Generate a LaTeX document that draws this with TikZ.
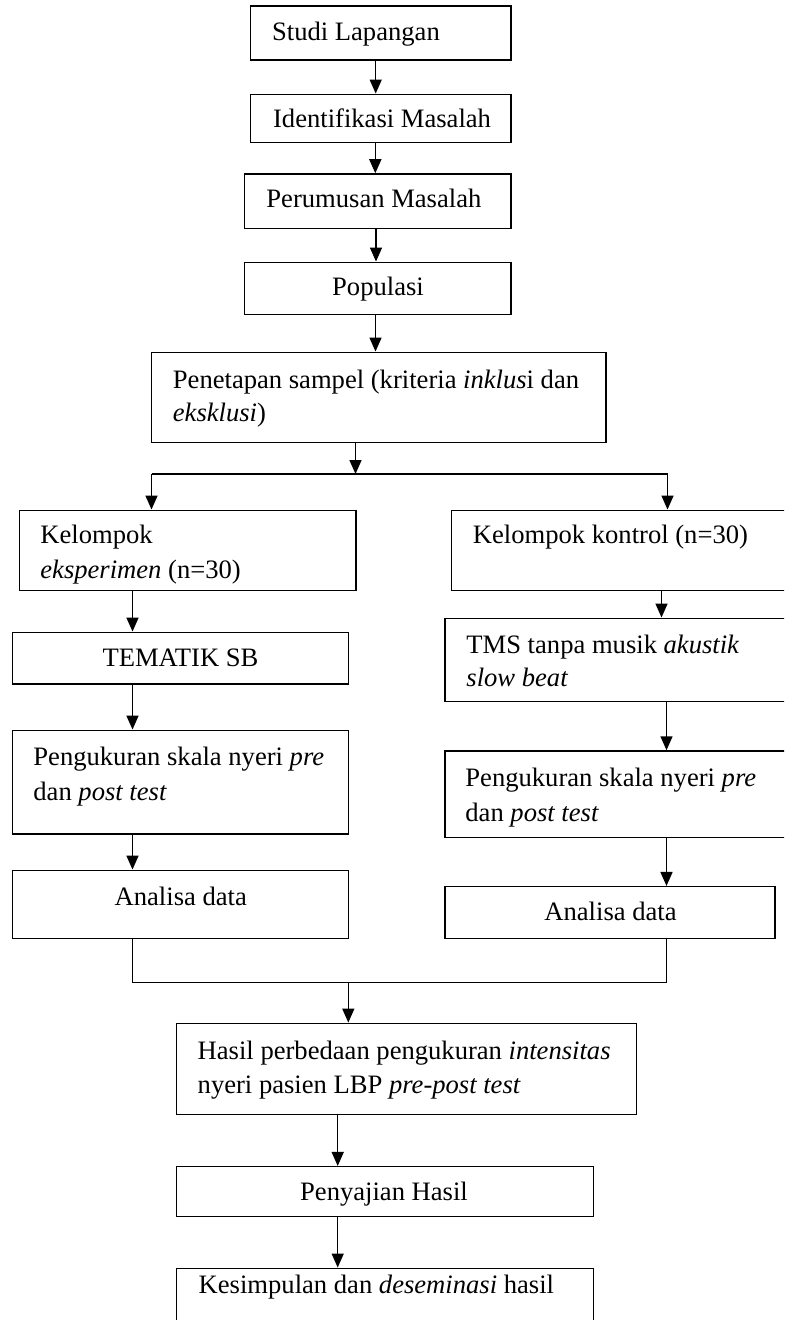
\documentclass[tikz,border=0pt]{standalone}
\usepackage{fontspec}
\setmainfont{Liberation Serif}
\usetikzlibrary{arrows.meta,fit}
\tikzset{
  box/.style={draw=black, line width=0.75pt, inner sep=0pt},
  txt/.style={inner sep=0pt, font=\fontsize{13.3pt}{16pt}\selectfont},
  arr/.style={line width=0.75pt, -{Triangle[length=7pt,width=6pt]}},
  ln/.style={line width=0.75pt}
}
\begin{document}
\begin{tikzpicture}[x=0.5pt,y=-0.5pt]
\useasboundingbox (0,0) rectangle (784,1320);
\clip (0,0) rectangle (784,1320);
\fill[white] (0,0) rectangle (784,1320);
% column coordinates
\coordinate (c1) at (375.7,0);
\coordinate (c2) at (375.3,0);
\coordinate (c3) at (376,0);
\coordinate (c4) at (375.5,0);
\coordinate (c5) at (355.5,0);
\coordinate (cl) at (151.5,0);
\coordinate (cr) at (667.5,0);
\coordinate (c6) at (132.5,0);
\coordinate (c7) at (661.5,0);
\coordinate (c9) at (666.5,0);
\coordinate (cm) at (348.3,0);
\coordinate (cb) at (337.7,0);
\coordinate (split) at (355.5,474);
\coordinate (merge) at (348.3,982.7);
% boxes
\node[box, fit={(250.7,6)(511,60)}] (n1) {};
\node[box, fit={(250.7,94.3)(511,142.7)}] (n2) {};
\node[box, fit={(244.7,174)(511,228.3)}] (n3) {};
\node[box, fit={(244.7,262.3)(511,314.3)}] (n4) {};
\node[box, fit={(151.5,352.3)(606,442.3)}] (n5) {};
\node[box, fit={(19.5,510.3)(356,590.3)}] (n6) {};
\node[box, fit={(451.5,510.3)(800,590.3)}] (n7) {};
\node[box, fit={(12.5,632.3)(348.5,684)}] (n8) {};
\node[box, fit={(445,618.3)(800,701.7)}] (n9) {};
\node[box, fit={(12.5,730.3)(348.5,834)}] (n10) {};
\node[box, fit={(445,751)(800,837.3)}] (n11) {};
\node[box, fit={(12.5,870.3)(348.5,938.3)}] (n12) {};
\node[box, fit={(445,886.7)(775,938.3)}] (n13) {};
\node[box, fit={(176.7,1023.3)(636.7,1114.3)}] (n14) {};
\node[box, fit={(176.7,1166.7)(593.3,1216.5)}] (n15) {};
\node[box, fit={(176.7,1268.3)(593.3,1340)}] (n16) {};
% texts
\node[txt, anchor=base west] (t1) at (271.7,40.7) {Studi Lapangan};
\node[txt, anchor=base west] (t2) at (272.7,128) {Identifikasi Masalah};
\node[txt, anchor=base west] (t3) at (266,208) {Perumusan Masalah};
\node[txt, anchor=base] (t4) at (378,296) {Populasi};
\node[txt, anchor=base west] (t5a) at (172.5,388.3) {Penetapan sampel (kriteria \textit{inklus}i dan};
\node[txt, anchor=base west] (t5b) at (172.5,421.7) {\textit{eksklusi})};
\node[txt, anchor=base west] (t6a) at (40,543) {Kelompok};
\node[txt, anchor=base west] (t6b) at (40,578) {\textit{eksperimen} (n=30)};
\node[txt, anchor=base west] (t7) at (472.5,543) {Kelompok kontrol (n=30)};
\node[txt, anchor=base] (t8) at (180.5,666.7) {TEMATIK SB};
\node[txt, anchor=base west] (t9a) at (466,653.3) {TMS tanpa musik \textit{akustik}};
\node[txt, anchor=base west] (t9b) at (466,686.7) {\textit{slow beat}};
\node[txt, anchor=base west] (t10a) at (33,765) {Pengukuran skala nyeri \textit{pre}};
\node[txt, anchor=base west] (t10b) at (33,800) {dan \textit{post test}};
\node[txt, anchor=base west] (t11a) at (465,786) {Pengukuran skala nyeri \textit{pre}};
\node[txt, anchor=base west] (t11b) at (465,821.7) {dan \textit{post test}};
\node[txt, anchor=base] (t12) at (180.75,905) {Analisa data};
\node[txt, anchor=base] (t13) at (610.5,920) {Analisa data};
\node[txt, anchor=base west] (t14a) at (197.3,1059.3) {Hasil perbedaan pengukuran \textit{intensitas}};
\node[txt, anchor=base west] (t14b) at (197.3,1093.3) {nyeri pasien LBP \textit{pre-post test}};
\node[txt, anchor=base] (t15) at (384,1200) {Penyajian Hasil};
\node[txt, anchor=base west] (t16) at (198.3,1293.3) {Kesimpulan dan \textit{deseminasi} hasil};
% connectors
\draw[arr] (n1.south -| c1) -- (n2.north -| c1);
\draw[arr] (n2.south -| c2) -- (n3.north -| c2);
\draw[arr] (n3.south -| c3) -- (n4.north -| c3);
\draw[arr] (n4.south -| c4) -- (n5.north -| c4);
\draw[arr] (n5.south -| c5) -- (split);
\draw[ln] (split -| cl) -- (split -| cr);
\draw[arr] (split -| cl) -- (n6.north -| cl);
\draw[arr] (split -| cr) -- (n7.north -| cr);
\draw[arr] (n6.south -| c6) -- (n8.north -| c6);
\draw[arr] (n7.south -| c7) -- (n9.north -| c7);
\draw[arr] (n8.south -| c6) -- (n10.north -| c6);
\draw[arr] (n9.south -| c9) -- (n11.north -| c9);
\draw[arr] (n10.south -| c6) -- (n12.north -| c6);
\draw[arr] (n11.south -| c9) -- (n13.north -| c9);
\draw[ln] (n12.south -| c6) |- (merge -| c9) -- (n13.south -| c9);
\draw[arr] (merge) -- (n14.north -| cm);
\draw[arr] (n14.south -| cb) -- (n15.north -| cb);
\draw[arr] (n15.south -| cb) -- (n16.north -| cb);
\end{tikzpicture}
\end{document}
